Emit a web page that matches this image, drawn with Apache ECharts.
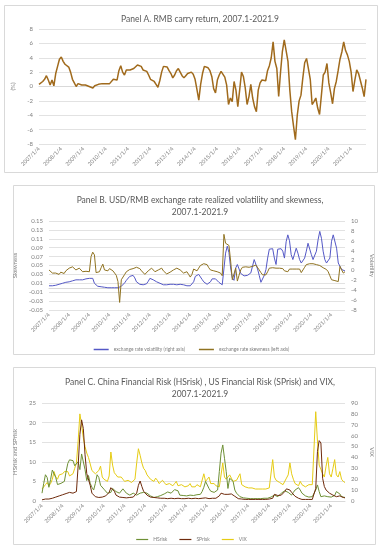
<!DOCTYPE html>
<html><head><meta charset="utf-8">
<script src="https://cdn.jsdelivr.net/npm/echarts@6/dist/echarts.min.js"></script>
<style>html,body{margin:0;padding:0;background:#fff;} #c{width:383px;height:550px;}</style>
</head><body><div id="c"></div>
<script>
// ---- tick labels / categories ----
const yearLabels = ['2007/1/4','2008/1/4','2009/1/4','2010/1/4','2011/1/4','2012/1/4','2013/1/4','2014/1/4','2015/1/4','2016/1/4','2017/1/4','2018/1/4','2019/1/4','2020/1/4','2021/1/4'];
const startYear = 2007, nMonths = 177; // 2007.1 - 2021.9
const months = [];
for (let i = 0; i < nMonths; i++) { months.push((startYear + Math.floor(i / 12)) + '/' + (i % 12 + 1)); }

// ---- Panel A: RMB carry return (%) ----
const carry = [
0.3,0.5,0.7,1.0,1.5,0.9,0.2,0.9,0.1,1.8,
2.8,3.8,4.1,3.5,3.1,2.9,2.7,2.0,1.0,0.5,
0.0,0.4,0.3,0.2,0.3,0.2,0.1,0.0,-0.1,-0.2,
0.1,0.2,0.3,0.35,0.4,0.4,0.4,0.4,0.4,0.45,
1.0,1.1,0.9,2.2,2.9,2.0,1.6,2.3,2.5,2.3,
2.2,2.5,2.7,3.0,3.2,2.8,2.3,2.2,2.1,1.6,
1.0,0.8,0.7,0.3,-0.1,0.8,2.0,2.8,3.0,2.7,
2.2,1.8,1.2,1.6,2.2,2.5,2.0,1.5,1.2,1.5,
1.8,1.9,2.0,1.7,1.0,-0.4,-1.9,0.3,1.8,2.8,
3.0,2.6,2.2,1.4,-0.3,-0.9,0.9,1.6,2.1,2.2,
1.3,0.2,-2.5,-1.6,-2.1,0.7,-0.5,-2.8,-0.5,2.0,
1.4,-0.2,-2.5,-1.4,0.3,-1.6,-2.8,-3.5,-0.5,0.5,
0.9,0.7,0.8,2.2,2.9,4.0,6.2,3.5,2.5,-1.4,
2.0,4.9,6.5,5.0,3.5,-0.5,-3.5,-5.5,-7.4,-4.0,
-2.0,-1.2,1.2,3.3,3.9,2.5,1.0,-2.5,-2.1,-1.6,
-3.0,-3.9,-1.2,1.6,2.0,3.2,0.5,-0.9,-2.4,-0.3,
0.7,2.2,3.8,4.8,6.2,5.0,4.4,3.5,2.0,-0.7,
0.9,2.3,1.8,0.8,-0.2,-1.4,1.0];

// ---- Panel B: volatility (right axis) and skewness (left axis) ----
const volatility = [
-3.1,-3.2,-3.1,-3.1,-3.0,-2.9,-2.8,-2.7,-2.6,-2.5,
-2.4,-2.4,-2.3,-2.2,-2.1,-2.0,-1.9,-1.8,-1.9,-1.8,
-1.9,-1.8,-1.7,-1.5,-1.6,-1.9,-1.6,-2.6,-3.0,-3.2,
-3.3,-3.3,-3.4,-3.4,-3.4,-3.5,-3.5,-3.5,-3.5,-3.5,
-3.5,-3.5,-3.5,-3.2,-2.8,-2.5,-2.0,-1.6,-1.2,-0.9,
-1.0,-1.5,-2.3,-2.6,-2.8,-2.9,-2.9,-2.9,-2.7,-2.2,
-1.6,-1.8,-1.9,-2.1,-2.3,-2.5,-2.6,-2.8,-2.9,-2.9,
-2.9,-2.9,-2.8,-2.8,-2.8,-2.9,-2.9,-2.9,-2.8,-2.7,
-2.9,-3.0,-3.1,-3.2,-3.1,-2.7,-2.3,-1.2,-0.8,-0.8,
-1.0,-1.8,-2.3,-2.7,-2.8,-2.6,-2.3,-1.7,-1.5,-1.7,
-2.0,-2.4,-2.6,-2.9,-3.3,3.5,4.9,3.6,0.5,-1.5,
-2.0,0.5,1.2,0.3,-0.6,-1.0,-1.1,-1.1,-1.0,-0.8,
-0.5,-0.1,2.2,1.8,0.3,-1.0,-2.4,-2.0,-1.0,0.2,
2.5,4.3,4.5,4.4,2.5,1.2,4.3,4.5,4.4,3.9,
2.5,5.8,7.2,6.0,3.2,2.2,2.5,4.5,3.5,2.2,
1.5,1.9,2.5,3.9,5.5,5.2,3.2,2.2,1.9,3.9,
6.2,7.9,6.5,3.9,2.2,1.5,1.2,2.5,5.9,7.2,
7.5,4.5,1.5,1.2,0.2,0.5,-0.1];
const skewness = [
0.040,0.036,0.033,0.035,0.033,0.032,0.030,0.035,0.034,0.032,
0.038,0.042,0.044,0.046,0.047,0.044,0.040,0.042,0.044,0.040,
0.036,0.038,0.037,0.035,0.036,0.070,0.080,0.074,0.034,0.031,
0.036,0.045,0.053,0.040,0.036,0.038,0.043,0.044,0.038,0.033,
0.028,0.014,-0.033,0.018,0.022,0.030,0.036,0.040,0.041,0.042,
0.043,0.044,0.046,0.047,0.043,0.038,0.034,0.030,0.029,0.038,
0.042,0.044,0.040,0.036,0.038,0.040,0.043,0.044,0.038,0.035,
0.031,0.030,0.035,0.038,0.040,0.042,0.044,0.043,0.040,0.036,
0.033,0.035,0.036,0.030,0.024,0.030,0.042,0.040,0.038,0.044,
0.050,0.053,0.054,0.053,0.052,0.045,0.040,0.038,0.038,0.038,
0.036,0.035,0.033,0.027,0.120,0.100,0.098,0.095,0.060,0.018,
0.020,0.044,0.015,0.028,0.040,0.046,0.047,0.047,0.047,0.046,
0.047,0.048,0.050,0.051,0.050,0.040,0.034,0.029,0.028,0.029,
0.036,0.044,0.045,0.045,0.044,0.044,0.045,0.044,0.045,0.043,
0.038,0.035,0.036,0.042,0.043,0.042,0.043,0.042,0.043,0.042,
0.034,0.040,0.046,0.052,0.053,0.054,0.053,0.054,0.053,0.052,
0.052,0.050,0.048,0.045,0.043,0.041,0.036,0.027,0.018,0.017,
0.016,0.016,0.014,0.048,0.040,0.033,0.036];

// ---- Panel C: HSrisk, SPrisk (left axis), VIX (right axis) ----
const hsrisk = [
2.0,4.5,6.7,6.0,3.5,5.5,7.9,8.0,6.0,4.2,
4.4,4.5,4.7,5.0,7.5,9.6,10.5,10.9,10.3,9.0,
8.5,10.0,8.0,12.0,11.5,8.0,5.2,6.5,4.5,3.5,
2.8,4.5,6.7,6.0,4.0,3.5,3.0,2.5,2.0,1.6,
2.2,3.2,2.8,2.4,2.2,2.0,2.5,3.1,2.6,2.0,
1.6,1.5,1.8,2.0,1.7,1.5,1.8,2.0,2.1,2.2,
2.1,2.0,1.8,1.3,1.0,0.9,0.9,1.1,1.2,1.4,
1.5,1.8,2.0,2.3,2.2,2.0,2.5,2.9,3.1,2.6,
1.5,1.5,1.4,1.3,1.3,1.4,1.5,1.5,1.4,1.5,
1.6,1.5,1.7,2.4,3.5,5.0,4.5,3.2,2.5,2.0,
2.2,2.5,2.8,7.5,12.2,14.3,10.9,7.5,3.2,5.8,
6.2,5.0,2.8,2.0,1.5,1.1,0.9,0.8,0.7,0.7,
0.7,0.6,0.6,0.6,0.6,0.6,0.6,0.6,0.7,0.7,
0.7,0.7,0.8,1.0,1.1,1.5,1.3,1.1,1.6,2.0,
2.2,2.6,2.4,2.2,1.8,1.5,2.2,2.8,3.2,3.4,
2.8,2.0,1.5,1.3,1.1,1.0,1.1,1.1,1.5,2.8,
4.1,2.4,1.1,1.2,1.3,1.2,1.1,1.1,1.0,1.1,
1.4,2.4,2.2,1.8,1.1,1.0,0.9];
const sprisk = [
0.3,0.4,0.5,0.6,0.5,0.6,0.7,0.9,1.0,1.1,
1.3,1.4,1.6,1.7,1.9,2.0,2.2,2.4,2.0,1.5,
2.4,9.0,17.0,20.7,18.5,11.8,7.0,6.7,4.0,2.0,
1.5,1.1,1.0,0.9,0.9,1.0,1.1,1.3,1.6,2.2,
3.4,3.0,2.5,1.5,1.2,1.0,0.9,0.9,0.8,0.8,
0.9,0.9,0.9,1.0,1.2,2.0,4.0,5.1,3.7,2.5,
2.0,1.5,1.1,1.0,0.9,0.9,0.8,0.8,0.7,0.7,
0.7,0.7,0.7,0.6,0.6,0.7,0.7,0.6,0.6,0.7,
0.7,0.6,0.6,0.6,0.7,0.7,0.6,0.6,0.6,0.7,
0.7,0.6,0.6,0.7,0.8,0.8,0.7,0.6,0.6,0.7,
0.7,0.7,0.8,1.3,2.0,2.1,1.7,1.4,1.7,2.0,
1.8,1.5,1.2,0.9,0.6,0.5,0.5,0.4,0.4,0.4,
0.4,0.4,0.4,0.4,0.4,0.4,0.4,0.4,0.4,0.4,
0.4,0.5,0.5,0.5,0.7,1.7,1.5,1.4,1.5,1.5,
1.8,2.4,3.1,3.0,2.8,2.2,1.7,1.2,0.8,0.7,
0.5,0.4,0.4,0.4,0.4,0.4,0.4,0.4,0.4,3.2,
12.6,15.4,14.8,5.8,3.7,2.8,2.4,2.0,1.7,1.5,
1.3,1.1,1.2,1.3,1.1,0.9,0.8];
const vix = [
11,12,15,17,14,16,20,27,22,20,
24,24,25,27,28,27,23,24,25,30,
35,55,80,70,58,50,44,40,34,28,
27,25,24,28,32,22,20,19,18,23,
45,33,26,24,22,21,22,20,18,17,
19,19,17,16,20,35,48,42,35,30,
28,24,22,20,19,18,21,19,16,16,
19,17,15,14,16,15,14,16,18,14,
13,15,16,13,14,14,16,13,14,13,
15,14,13,14,25,18,20,22,16,15,
16,14,13,13,13,35,22,20,19,24,
21,18,17,19,18,25,15,14,13,13,
12,13,12,12,11,12,11,12,11,12,
11,11,12,13,38,22,19,18,17,16,
15,15,21,24,35,25,20,16,15,14,
18,15,14,13,14,15,14,15,16,82,
55,33,29,25,22,32,40,25,22,30,
38,24,22,27,20,18,17];

const FONT = 'Lato, "Open Sans", sans-serif';
const GRAY = '#7f7f7f';
const GRID = '#e2e2e2';

function xAx(gi) {
  return {
    type: 'category', gridIndex: gi, data: months, boundaryGap: false,
    axisLine: { lineStyle: { color: '#d9d9d9' } }, axisTick: { show: false },
    axisLabel: { interval: (i) => i % 12 === 0, rotate: 45, fontSize: 5.5, color: GRAY, margin: 4, fontFamily: FONT,
      formatter: (v, i) => yearLabels[Math.round(i / 12)] }
  };
}
function yAx(o) {
  return Object.assign({
    type: 'value', axisLine: { show: false }, axisTick: { show: false },
    axisLabel: { fontSize: 6, color: GRAY, margin: 6, fontFamily: FONT },
    splitLine: { lineStyle: { color: GRID, width: 1 } },
    nameLocation: 'middle', nameRotate: 90,
    nameTextStyle: { fontSize: 6, color: GRAY, fontFamily: FONT }
  }, o);
}

const chart = echarts.init(document.getElementById('c'), null, { renderer: 'canvas' });
chart.setOption({
  animation: false,
  backgroundColor: '#fff',
  textStyle: { fontFamily: FONT },
  title: [
    { text: 'Panel A. RMB carry return, 2007.1-2021.9', left: 195, top: 10, textAlign: 'center',
      textStyle: { fontSize: 8.5, fontWeight: 'normal', color: '#595959', fontFamily: FONT } },
    { text: 'Panel B. USD/RMB exchange rate realized volatility and skewness,\n2007.1-2021.9', left: 195, top: 189, textAlign: 'center',
      textStyle: { fontSize: 8.5, fontWeight: 'normal', color: '#595959', lineHeight: 12, fontFamily: FONT } },
    { text: 'Panel C. China Financial Risk (HSrisk) , US Financial Risk (SPrisk) and VIX,\n2007.1-2021.9', left: 195, top: 371, textAlign: 'center',
      textStyle: { fontSize: 8.5, fontWeight: 'normal', color: '#595959', lineHeight: 12, fontFamily: FONT } }
  ],
  graphic: [
    { type: 'rect', shape: { x: 4.5, y: 5.5, width: 373, height: 167 }, style: { fill: 'none', stroke: '#d9d9d9', lineWidth: 1 }, silent: true },
    { type: 'rect', shape: { x: 13.5, y: 185.5, width: 361, height: 169 }, style: { fill: 'none', stroke: '#d9d9d9', lineWidth: 1 }, silent: true },
    { type: 'rect', shape: { x: 13.5, y: 367.5, width: 362, height: 177 }, style: { fill: 'none', stroke: '#d9d9d9', lineWidth: 1 }, silent: true }
  ],
  grid: [
    { left: 39, right: 17, top: 29, bottom: 406 },
    { left: 49, right: 38, top: 221, bottom: 240 },
    { left: 42, right: 38, top: 403, bottom: 49 }
  ],
  legend: [
    { top: 342, left: 'center', orient: 'horizontal', itemWidth: 15, itemHeight: 6, itemGap: 14,
      data: ['exchange rate volatility (right axis)', 'exchange rate skewness (left axis)'],
      textStyle: { fontSize: 4.8, color: GRAY, fontFamily: FONT }, icon: 'path://M0,0L10,0L10,1L0,1Z' },
    { top: 532, left: 'center', orient: 'horizontal', itemWidth: 12, itemHeight: 6, itemGap: 12,
      data: ['HSrisk', 'SPrisk', 'VIX'],
      textStyle: { fontSize: 5, color: GRAY, fontFamily: FONT }, icon: 'path://M0,0L10,0L10,1L0,1Z' }
  ],
  xAxis: [xAx(0), xAx(1), xAx(2)],
  yAxis: [
    yAx({ gridIndex: 0, min: -8, max: 8, interval: 2, name: '(%)', nameGap: 17 }),
    yAx({ gridIndex: 1, min: -0.05, max: 0.15, interval: 0.02, name: 'Skewness', nameGap: 22,
      axisLabel: { fontSize: 6, color: GRAY, margin: 6, fontFamily: FONT, formatter: (v) => v.toFixed(2) } }),
    yAx({ gridIndex: 1, position: 'right', min: -8, max: 10, interval: 2, name: 'Volatility', nameGap: 16, nameRotate: -90,
      splitLine: { show: false } }),
    yAx({ gridIndex: 2, min: 0, max: 25, interval: 5, name: 'HSrisk and SPrisk', nameGap: 14 }),
    yAx({ gridIndex: 2, position: 'right', min: 0, max: 90, interval: 10, name: 'VIX', nameGap: 16, nameRotate: -90,
      splitLine: { show: false } })
  ],
  series: [
    { name: 'carry', type: 'line', xAxisIndex: 0, yAxisIndex: 0, data: carry, symbol: 'none',
      lineStyle: { color: '#A06A1C', width: 1.5 }, itemStyle: { color: '#A06A1C' } },
    { name: 'exchange rate volatility (right axis)', type: 'line', xAxisIndex: 1, yAxisIndex: 2, data: volatility, symbol: 'none',
      lineStyle: { color: '#5458C6', width: 1 }, itemStyle: { color: '#5458C6' } },
    { name: 'exchange rate skewness (left axis)', type: 'line', xAxisIndex: 1, yAxisIndex: 1, data: skewness, symbol: 'none',
      lineStyle: { color: '#8F7220', width: 1 }, itemStyle: { color: '#8F7220' } },
    { name: 'HSrisk', type: 'line', xAxisIndex: 2, yAxisIndex: 3, data: hsrisk, symbol: 'none',
      lineStyle: { color: '#6E9035', width: 1 }, itemStyle: { color: '#6E9035' } },
    { name: 'SPrisk', type: 'line', xAxisIndex: 2, yAxisIndex: 3, data: sprisk, symbol: 'none',
      lineStyle: { color: '#6E2A0C', width: 1 }, itemStyle: { color: '#6E2A0C' } },
    { name: 'VIX', type: 'line', xAxisIndex: 2, yAxisIndex: 4, data: vix, symbol: 'none', z: 1,
      lineStyle: { color: '#E6CC14', width: 1 }, itemStyle: { color: '#E6CC14' } }
  ]
});
</script>
</body></html>
